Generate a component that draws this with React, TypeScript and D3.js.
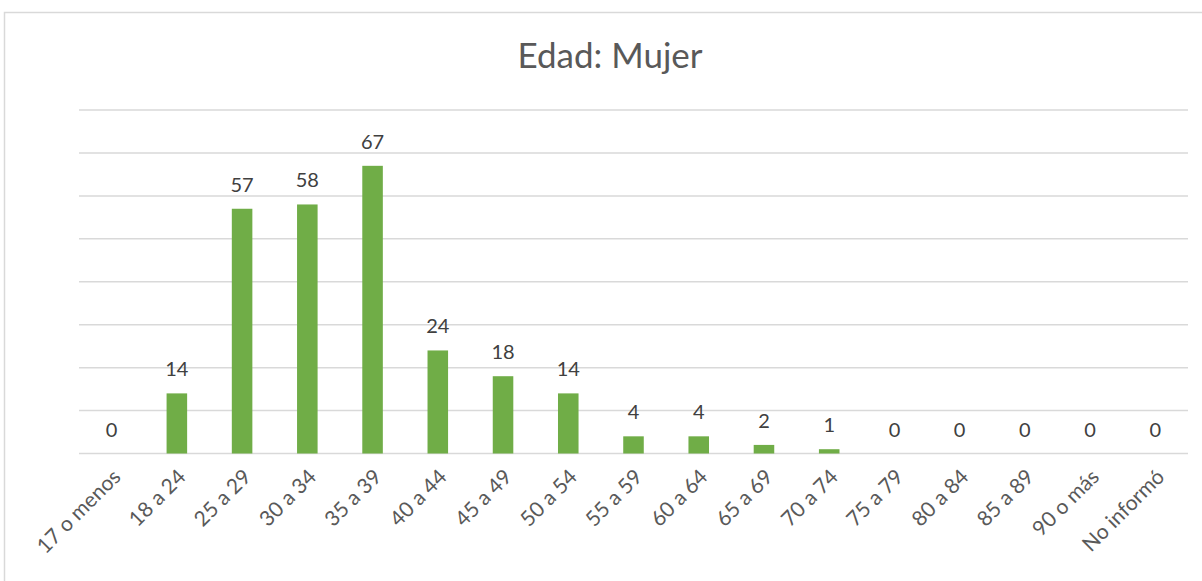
import React from "react";
import * as d3 from "d3";

const categories = ["17 o menos","18 a 24","25 a 29","30 a 34","35 a 39","40 a 44","45 a 49","50 a 54","55 a 59","60 a 64","65 a 69","70 a 74","75 a 79","80 a 84","85 a 89","90 o más","No informó"];
const values = [0,14,57,58,67,24,18,14,4,4,2,1,0,0,0,0,0];
const gridTicks = [0,10,20,30,40,50,60,70,80];
const title = "Edad: Mujer";

export default function App() {
  const W = 1202, H = 581;
  const left = 79, right = 1188, top = 110, bottom = 453.5;
  const x = d3.scaleBand<string>().domain(categories).range([left, right]).padding(0);
  const y = d3.scaleLinear().domain([0, 80]).range([bottom, top]);
  const bw = x.bandwidth() * 0.315;
  const font = "Lato, 'Open Sans', sans-serif";
  return (
    <svg width={W} height={H} style={{ position: "absolute", left: 0, top: 0, background: "#fff" }}>
      <rect x={4.5} y={12.5} width={1210} height={590} fill="#fff" stroke="#d9d9d9" strokeWidth={1.5} />
      <text x={610} y={68} textAnchor="middle" fontFamily={font} fontSize={35} fill="#595959">{title}</text>
      {gridTicks.map(t => (
        <line key={t} x1={left} x2={right} y1={y(t)} y2={y(t)} stroke="#d9d9d9" strokeWidth={1.5} />
      ))}
      {categories.map((c, i) => {
        const cx = (x(c) as number) + x.bandwidth() / 2;
        const v = values[i];
        return (
          <g key={c}>
            {v > 0 && <rect x={cx - bw / 2} y={y(v)} width={bw} height={bottom - y(v)} fill="#70ad47" />}
            <text x={cx} y={y(v) - 17} textAnchor="middle" fontFamily={font} fontSize={20} fill="#404040">{v}</text>
            <text transform={`translate(${cx + 5},${473}) rotate(-45)`} textAnchor="end" dy="0.35em" fontFamily={font} fontSize={21} fill="#595959">{c}</text>
          </g>
        );
      })}
    </svg>
  );
}
